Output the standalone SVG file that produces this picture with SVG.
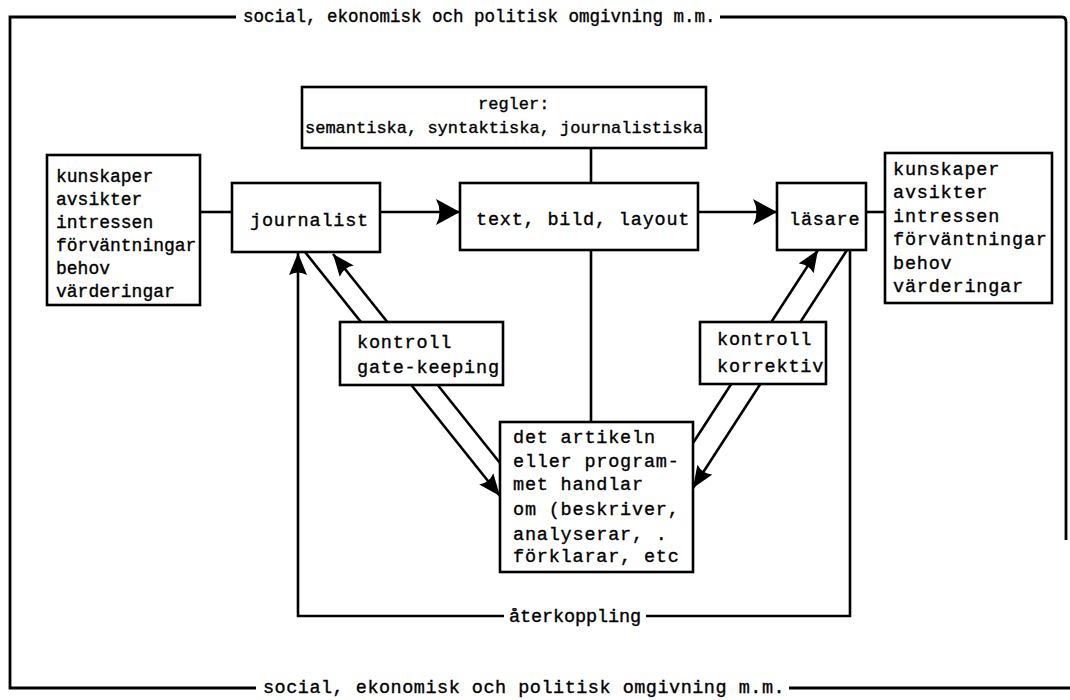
<svg xmlns="http://www.w3.org/2000/svg" width="1070" height="700" viewBox="0 0 1070 700">
<style>
  .b { fill: #fff; stroke: #000; stroke-width: 2.6; }
  .c { fill: none; stroke: #000; stroke-width: 2.6; }
  .f { fill: none; stroke: #000; stroke-width: 2.8; }
  text { font-family: "Liberation Mono", "Courier New", monospace; font-size: 18.5px; fill: #000; stroke: #000; stroke-width: 0.35; letter-spacing: 0.8px; }
  .s { font-size: 17px; letter-spacing: 0; }
  .top { font-size: 17.5px; letter-spacing: 0; }
  .bot { letter-spacing: 0.5px; }
  .m { letter-spacing: -0.1px; }
  .l { font-size: 18px; letter-spacing: 0; }
</style>
<defs>
  <marker id="big" viewBox="0 0 24 26" refX="24" refY="13" markerWidth="24" markerHeight="26" markerUnits="userSpaceOnUse" orient="auto">
    <path d="M0,0 L24,13 L0,26 Q7,13 0,0 Z" fill="#000"/>
  </marker>
  <marker id="ah" viewBox="0 0 22 18" refX="22" refY="9" markerWidth="22" markerHeight="18" markerUnits="userSpaceOnUse" orient="auto">
    <path d="M0,0 L22,9 L0,18 Q5,9 0,0 Z" fill="#000"/>
  </marker>
</defs>

<g id="frame">
  <path class="f" d="M236,17 H10 V688 H256"/>
  <path class="f" d="M720,17 H1062 Q1066,17 1066,22 V540"/>
  <path class="f" d="M789,688 H1070"/>
  <text class="top" x="243" y="22">social, ekonomisk och politisk omgivning m.m.</text>
  <text class="bot" x="263" y="693">social, ekonomisk och politisk omgivning m.m.</text>
</g>

<g id="connectors">
  <line class="c" x1="200" y1="212" x2="232" y2="212"/>
  <line class="c" x1="380" y1="212" x2="460" y2="212" marker-end="url(#big)"/>
  <line class="c" x1="698" y1="212" x2="777" y2="212" marker-end="url(#big)"/>
  <line class="c" x1="866" y1="212" x2="885" y2="212"/>
  <line class="c" x1="591" y1="148" x2="591" y2="183"/>
  <line class="c" x1="591" y1="250" x2="591" y2="422"/>
  <line class="c" x1="305" y1="252" x2="500" y2="496" marker-end="url(#ah)"/>
  <line class="c" x1="500" y1="463" x2="333" y2="254" marker-end="url(#ah)"/>
  <line class="c" x1="693" y1="443" x2="818" y2="250" marker-end="url(#ah)"/>
  <line class="c" x1="847" y1="250" x2="693" y2="488" marker-end="url(#ah)"/>
  <path class="c" d="M850,250 V616 H646"/>
  <path class="c" d="M504,616 H298 V253" marker-end="url(#ah)"/>
  <text class="m" x="509" y="622">återkoppling</text>
</g>

<g id="regler">
  <rect class="b" x="302" y="87" width="404" height="61"/>
  <text class="s" x="478" y="109">regler:</text>
  <text class="s" x="305" y="133">semantiska, syntaktiska, journalistiska</text>
</g>

<g id="sender-attributes">
  <rect class="b" x="47" y="155" width="153" height="150"/>
  <text class="l" x="56" y="182">kunskaper</text>
  <text class="l" x="56" y="205">avsikter</text>
  <text class="l" x="56" y="228">intressen</text>
  <text class="l" x="56" y="251">förväntningar</text>
  <text class="l" x="56" y="274">behov</text>
  <text class="l" x="56" y="297">värderingar</text>
</g>

<g id="journalist">
  <rect class="b" x="232" y="183" width="148" height="69"/>
  <text x="250" y="226">journalist</text>
</g>

<g id="text-bild-layout">
  <rect class="b" x="460" y="183" width="238" height="67"/>
  <text x="476" y="225">text, bild, layout</text>
</g>

<g id="lasare">
  <rect class="b" x="777" y="183" width="89" height="67"/>
  <text x="789" y="225">läsare</text>
</g>

<g id="reader-attributes">
  <rect class="b" x="885" y="153" width="167" height="150"/>
  <text x="893" y="175">kunskaper</text>
  <text x="893" y="198">avsikter</text>
  <text x="893" y="222">intressen</text>
  <text x="893" y="245">förväntningar</text>
  <text x="893" y="269">behov</text>
  <text x="893" y="292">värderingar</text>
</g>

<g id="kontroll-gatekeeping">
  <rect class="b" x="340" y="322" width="163" height="63"/>
  <text x="357" y="348">kontroll</text>
  <text x="357" y="373">gate-keeping</text>
</g>

<g id="kontroll-korrektiv">
  <rect class="b" x="700" y="322" width="126" height="62"/>
  <text x="717" y="345">kontroll</text>
  <text x="717" y="372">korrektiv</text>
</g>

<g id="subject">
  <rect class="b" x="500" y="422" width="193" height="150"/>
  <text x="513" y="443">det artikeln</text>
  <text x="513" y="467">eller program-</text>
  <text x="513" y="490">met handlar</text>
  <text x="513" y="515">om (beskriver,</text>
  <text x="513" y="540">analyserar, .</text>
  <text x="513" y="562">förklarar, etc</text>
</g>
</svg>
